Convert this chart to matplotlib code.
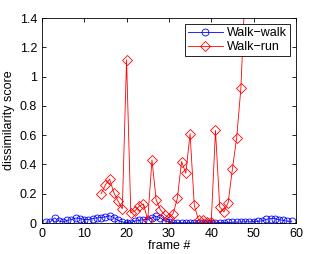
import matplotlib
matplotlib.use('Agg')
import matplotlib.pyplot as plt

plt.rcParams['font.family'] = ['Liberation Sans', 'DejaVu Sans']

# walk-walk: frames 1..59
walk_frames = list(range(1, 60))
walk_walk = [0.007, 0.007, 0.035, 0.014, 0.007, 0.018, 0.023, 0.035, 0.03, 0.023,
             0.023, 0.03, 0.035, 0.037, 0.042, 0.05, 0.037, 0.018, 0.007, 0.002,
             0.002, 0.014, 0.018, 0.023, 0.023, 0.035, 0.047, 0.035, 0.014, 0.007,
             0.003, 0.002, 0.002, 0.002, 0.002, 0.002, 0.002, 0.002, 0.002, 0.002,
             0.002, 0.003, 0.003, 0.004, 0.005, 0.006, 0.007, 0.008, 0.008, 0.009,
             0.012, 0.014, 0.025, 0.03, 0.03, 0.023, 0.018, 0.012, 0.012]

# walk-run: frames 14..48
run_frames = list(range(14, 49))
walk_run = [0.20, 0.26, 0.30, 0.207, 0.15, 0.097, 1.115, 0.069, 0.085, 0.115,
            0.13, 0.02, 0.43, 0.156, 0.09, 0.057, 0.035, 0.064, 0.17, 0.42,
            0.34, 0.61, 0.12, 0.02, 0.02, 0.01, 0.007, 0.632, 0.11, 0.076,
            0.14, 0.37, 0.58, 0.92, 1.6]

fig = plt.figure(figsize=(3.27, 2.54), dpi=100)
ax = fig.add_axes([0.128, 0.122, 0.777, 0.807])

ax.plot(walk_frames, walk_walk, color='#0000ff', marker='o', markersize=5,
        markerfacecolor='none', lw=0.6, mew=0.6, label='Walk\u2212walk')
ax.plot(run_frames, walk_run, color='#ff0000', marker='D', markersize=4.8,
        markerfacecolor='none', lw=0.6, mew=0.6, label='Walk\u2212run')

ax.set_xlim(0, 60)
ax.set_ylim(0, 1.4)
ax.set_xticks(range(0, 61, 10))
ax.set_yticks([0, 0.2, 0.4, 0.6, 0.8, 1.0, 1.2, 1.4])
ax.set_yticklabels(['0', '0.2', '0.4', '0.6', '0.8', '1', '1.2', '1.4'])
ax.tick_params(direction='in', top=True, right=True, labelsize=9, length=3, width=0.6)
for s in ax.spines.values():
    s.set_linewidth(0.6)

ax.set_xlabel('frame #', fontsize=9, labelpad=0)
ax.set_ylabel('dissimilarity score', fontsize=9, labelpad=3)

leg = ax.legend(loc='upper right', fontsize=9, fancybox=False, framealpha=1,
                edgecolor='black', borderpad=0.25, handlelength=2.8,
                handletextpad=0.3, labelspacing=0.15, borderaxespad=0.5)
leg.get_frame().set_linewidth(0.6)

fig.savefig('out.png', dpi=100)
